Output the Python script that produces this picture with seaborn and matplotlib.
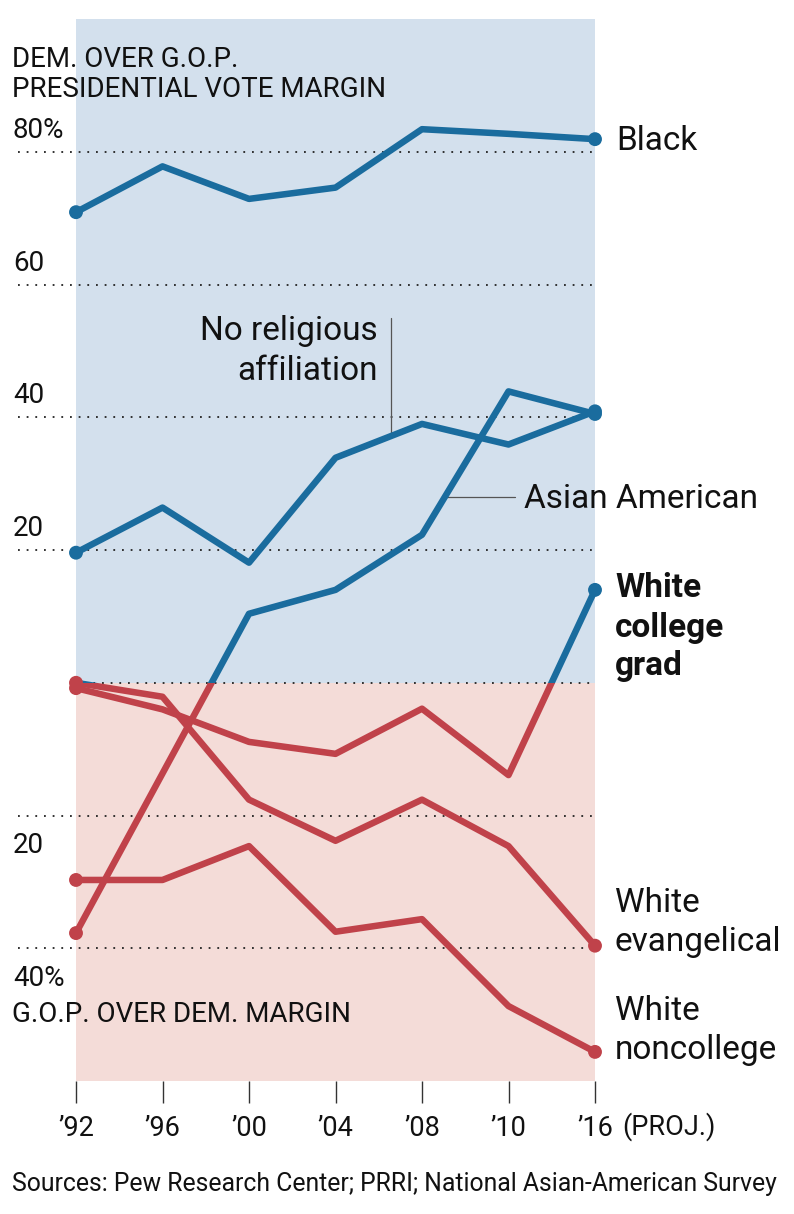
import numpy as np
import pandas as pd
import matplotlib
matplotlib.use("Agg")
import matplotlib.pyplot as plt
from matplotlib.patches import Rectangle
import seaborn as sns

# ---------------- data ----------------
years = ["’92", "’96", "’00", "’04", "’08", "’10", "’16"]
black = [70.9, 77.8, 72.9, 74.6, 83.4, 82.7, 81.9]
no_religion = [19.6, 26.4, 18.1, 33.9, 39.0, 35.9, 40.9]
asian_american = [-37.7, None, 10.4, 14.0, 22.3, 43.9, 40.5]
white_college = [-0.8, -4.0, -8.9, -10.7, -3.9, -13.9, 14.0]
white_evangelical = [0.0, -2.1, -17.6, -23.8, -17.6, -24.6, -39.6]
white_noncollege = [-29.7, -29.7, -24.6, -37.5, -35.6, -48.7, -55.6]
series_names = ["Black", "No religious affiliation", "Asian American",
                "White college grad", "White evangelical", "White noncollege"]
series_values = [black, no_religion, asian_american, white_college,
                 white_evangelical, white_noncollege]

ytick_values = [80, 60, 40, 20, -20, -40]
ytick_labels = ["80%", "60", "40", "20", "20", "40%"]
source_text = "Sources: Pew Research Center; PRRI; National Asian-American Survey"

# ---------------- style ----------------
BLUE = "#1a6c9e"
RED = "#c0424a"
BLUE_BG = "#d3e0ed"
RED_BG = "#f4dcd8"
INK = "#111111"

sns.set_theme(style="white")
plt.rcParams["font.family"] = ["Roboto", "DejaVu Sans"]

rows = []
for name, vals in zip(series_names, series_values):
    for i, v in enumerate(vals):
        if v is not None:
            rows.append({"series": name, "pos": i, "value": v})
df = pd.DataFrame(rows)

W, H = 794, 1214
fig = plt.figure(figsize=(W / 100, H / 100), dpi=100)
ax = fig.add_axes([76 / W, (H - 1081.1) / H, 519 / W, (1081.1 - 19.0) / H])
ax.set_xlim(0, 6)
ax.set_ylim(-60, 100)
for s in ax.spines.values():
    s.set_visible(False)

# background bands
ax.axhspan(0, 100, color=BLUE_BG, lw=0, zorder=0)
ax.axhspan(-60, 0, color=RED_BG, lw=0, zorder=0)

# dotted gridlines
dot = (0, (1, 3.8))
ax.hlines(ytick_values, -0.67, 6, colors="#222222", linestyles=dot, lw=1.3,
          clip_on=False, zorder=1)
ax.hlines([0], 0, 6, colors="#222222", linestyles=dot, lw=1.3, zorder=1)

# lines: blue above zero, red below zero
for color, xy, h in [(BLUE, (-1, 0), 300), (RED, (-1, -300), 300)]:
    n0 = len(ax.lines)
    sns.lineplot(data=df, x="pos", y="value", hue="series",
                 palette={n: color for n in series_names}, lw=4.7,
                 estimator=None, legend=False, ax=ax, zorder=3)
    for ln in ax.lines[n0:]:
        ln.set_clip_path(Rectangle(xy, 8, h, transform=ax.transData))
        ln.set_solid_joinstyle("round")
        ln.set_solid_capstyle("butt")

# end dots
first = df.loc[df.groupby("series")["pos"].idxmin()]
last = df.loc[df.groupby("series")["pos"].idxmax()]
ends = pd.concat([first, last])
ends["side"] = np.where(ends["value"] > 0, "dem", "gop")
sns.scatterplot(data=ends, x="pos", y="value", hue="side",
                palette={"dem": BLUE, "gop": RED}, s=100, linewidth=0,
                legend=False, ax=ax, zorder=5, clip_on=False)

# x axis
ax.set_yticks([])
ax.set_xticks(range(len(years)))
ax.set_xticklabels(years)
ax.tick_params(axis="x", bottom=True, length=15.8, width=1.0, color="#333333",
               direction="out", pad=8.5, labelsize=19.5, labelcolor=INK)
ax.set_xlabel("")
ax.set_ylabel("")
ax.text(6.31, -68.1, "(PROJ.)", ha="left", va="baseline", fontsize=19.5,
        color=INK, clip_on=False)

# y labels
for v, lab in zip(ytick_values, ytick_labels):
    yy = v + 2.1 if v > 0 else v - 5.6
    ax.text(-0.73, yy, lab, ha="left", va="baseline", fontsize=20, color=INK,
            clip_on=False)

ax.text(-0.74, 92.8, "DEM. OVER G.O.P.", ha="left", va="baseline",
        fontsize=20, color=INK, clip_on=False)
ax.text(-0.74, 88.2, "PRESIDENTIAL VOTE MARGIN", ha="left", va="baseline",
        fontsize=20, color=INK, clip_on=False)
ax.text(-0.74, -51.1, "G.O.P. OVER DEM. MARGIN", ha="left", va="baseline",
        fontsize=20, color=INK, clip_on=False)

# series labels
def label(x, ys, lines, ha="left", weight="normal"):
    for yy, t in zip(ys, lines):
        ax.text(x, yy, t, ha=ha, va="baseline", fontsize=24, color=INK,
                fontweight=weight, clip_on=False, zorder=6)

label(6.243, [80.3], ["Black"])
label(3.491, [51.6, 45.6], ["No religious", "affiliation"], ha="right")
label(5.18, [26.3], ["Asian American"])
label(6.231, [12.97, 6.94, 1.18], ["White", "college", "grad"], weight="bold")
label(6.231, [-34.5, -40.4], ["White", "evangelical"])
label(6.231, [-50.8, -56.6], ["White", "noncollege"])

# leader lines
pos = np.arange(len(years))
nr_x = 3.638
nr_y = np.interp(nr_x, pos, no_religion)
ax.plot([nr_x, nr_x], [54.96, nr_y], color="#555555", lw=0.9, zorder=2)
as_y = 28.0
as_x = 4 + (as_y - asian_american[4]) / (asian_american[5] - asian_american[4])
ax.plot([as_x, 5.075], [as_y, as_y], color="#555555", lw=0.9, zorder=2)

fig.text(12 / W, (H - 1191) / H, source_text, ha="left", va="baseline",
         fontsize=17.8, color=INK)

fig.savefig("out.png", dpi=100)
